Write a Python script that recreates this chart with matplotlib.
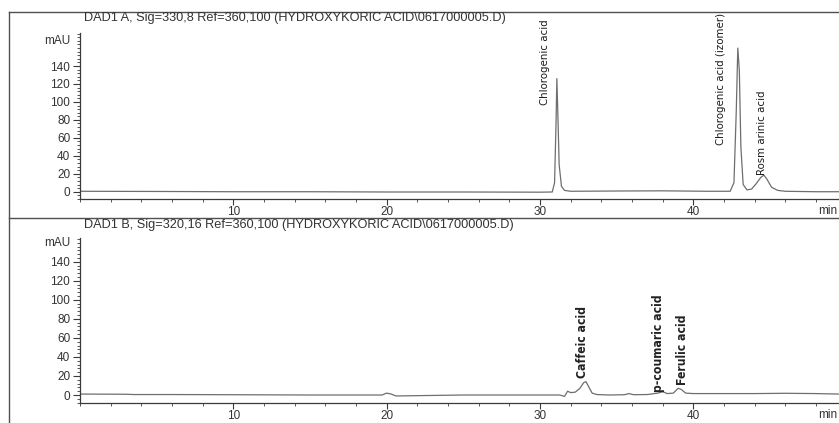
import matplotlib.pyplot as plt
from matplotlib.lines import Line2D
from matplotlib.ticker import MultipleLocator, FixedLocator
from matplotlib import font_manager

# ---------------- data ----------------
# signal A (330 nm): time in min, absorbance in mAU
top_t = [0, 5, 10, 15, 20, 25, 30, 30.8, 30.95, 31.05, 31.1, 31.15, 31.25, 31.4, 31.6, 32,
         35, 38, 41, 42.4, 42.65, 42.8, 42.9, 43.0, 43.1, 43.25, 43.5, 43.8, 44.1, 44.4,
         44.6, 44.8, 45.1, 45.5, 46, 48, 49.5]
top_v = [0.5, 0.3, 0, 0, -0.3, -0.3, -0.5, -0.3, 10, 80, 126, 95, 30, 6, 1.5, 0.5,
         0.8, 1, 0.5, 0.5, 10, 90, 160, 135, 50, 8, 2, 3, 9, 16,
         18.5, 14, 5, 1.5, 0.5, 0, 0]

# signal B (320 nm)
bot_t = [0, 3, 3.5, 6, 10, 15, 19.7, 20, 20.3, 20.6, 25, 30, 31.3, 31.6, 31.8, 32.0,
         32.3, 32.6, 32.85, 33.0, 33.2, 33.4, 33.7, 34.5, 35.5, 35.8, 36.1, 37, 37.7,
         38.0, 38.3, 38.7, 39.0, 39.2, 39.5, 40, 42, 44, 46, 48, 49.5]
bot_v = [1, 0.8, 0.5, 0.5, 0.3, 0, 0, 2, 1, -1, 0, 0, 0, -1.5, 4, 2.5,
         3, 7, 13, 14, 8, 2, 0.5, 0, 0.3, 1.5, 0.3, 0.5, 2,
         3.5, 1.5, 2, 7, 6, 2, 1.5, 1.5, 1.5, 1.8, 1.5, 1]

# peak labels: (label, time, bottom of text in mAU)
top_labels = ['Chlorogenic acid', 'Chlorogenic acid (izomer)', 'Rosm arinic acid']
top_label_t = [30.3, 41.8, 44.5]
top_label_v = [97, 52, 19]

bot_labels = ['Caffeic acid', 'p-coumaric acid', 'Ferulic acid']
bot_label_t = [32.8, 37.7, 39.3]
bot_label_v = [18, 3, 10.5]

titles = ['DAD1 A, Sig=330,8 Ref=360,100 (HYDROXYKORIC ACID\\0617000005.D)',
          'DAD1 B, Sig=320,16 Ref=360,100 (HYDROXYKORIC ACID\\0617000005.D)']

#-------------------------------------------figure-------------------------------------------#
plt.rcParams['font.family'] = ['Liberation Sans', 'DejaVu Sans']
fig = plt.figure(figsize=(8.39, 4.23), dpi=100)

W, H = 839.0, 423.0
ax_top = fig.add_axes([80 / W, 1 - 199 / H, 1 - 80 / W, (199 - 33) / H])
ax_bot = fig.add_axes([80 / W, 1 - 403 / H, 1 - 80 / W, (403 - 238) / H])

line_col = '#6e6e6e'
axis_col = '#3a3a3a'
txt_col = '#333333'

# peak labels are in a condensed face; use one if there is one installed
fonts = font_manager.fontManager.ttflist
if any(f.name == 'Liberation Sans Narrow' for f in fonts):
    lab_font = dict(family='Liberation Sans Narrow')
    top_size, bot_size = 9.0, 9.0
elif any(f.name == 'DejaVu Sans' and f.stretch == 'condensed' for f in fonts):
    lab_font = dict(family='DejaVu Sans', fontstretch='condensed')
    top_size, bot_size = 8.2, 8.7
else:
    lab_font = dict(family='Liberation Sans')
    top_size, bot_size = 7.8, 8.0

def style(ax, ylo, yhi):
    ax.set_xlim(0, 49.5)
    ax.set_ylim(ylo, yhi)
    for s in ['top', 'right']:
        ax.spines[s].set_visible(False)
    for s in ['left', 'bottom']:
        ax.spines[s].set_color(axis_col)
        ax.spines[s].set_linewidth(0.9)
    ax.xaxis.set_major_locator(FixedLocator([10, 20, 30, 40]))
    ax.xaxis.set_minor_locator(MultipleLocator(2))
    ax.yaxis.set_major_locator(FixedLocator([0, 20, 40, 60, 80, 100, 120, 140]))
    ax.yaxis.set_minor_locator(MultipleLocator(4))
    ax.tick_params(which='major', length=5, width=0.8, color=axis_col,
                   labelsize=8.5, labelcolor=txt_col, pad=2)
    ax.tick_params(axis='x', which='major', length=4.5, pad=0.5)
    ax.tick_params(which='minor', length=2.5, width=0.6, color=axis_col)
    ax.patch.set_alpha(0)

style(ax_top, -8.1, 176.8)
style(ax_bot, -8.4, 165)

ax_top.plot(top_t, top_v, color=line_col, lw=0.9)
ax_bot.plot(bot_t, bot_v, color=line_col, lw=0.9)

for lab, t, v in zip(top_labels, top_label_t, top_label_v):
    ax_top.text(t, v, lab, rotation=90, ha='center', va='bottom', color='#1a1a1a',
                fontsize=top_size, **lab_font)
for lab, t, v in zip(bot_labels, bot_label_t, bot_label_v):
    ax_bot.text(t, v, lab, rotation=90, ha='center', va='bottom', color='#222222',
                fontsize=bot_size, fontweight='bold', **lab_font)

# titles, units
fig.text(84 / W, 1 - 18 / H, titles[0], fontsize=9.2, va='center', color=txt_col)
fig.text(84 / W, 1 - 225 / H, titles[1], fontsize=9.2, va='center', color=txt_col)
fig.text(70 / W, 1 - 41 / H, 'mAU', fontsize=8.5, ha='right', va='center', color=txt_col)
fig.text(70 / W, 1 - 243 / H, 'mAU', fontsize=8.5, ha='right', va='center', color=txt_col)
fig.text(818 / W, 1 - 211 / H, 'min', fontsize=8.5, va='center', color=txt_col)
fig.text(818 / W, 1 - 415 / H, 'min', fontsize=8.5, va='center', color=txt_col)

# outer frame of the printout
frame_col = '#505050'
fig.add_artist(Line2D([9 / W, 1], [1 - 12 / H, 1 - 12 / H], color=frame_col, lw=1))
fig.add_artist(Line2D([9 / W, 1], [1 - 218 / H, 1 - 218 / H], color=frame_col, lw=1))
fig.add_artist(Line2D([9 / W, 9 / W], [0, 1 - 12 / H], color=frame_col, lw=1))

fig.savefig('out.png', dpi=100)
